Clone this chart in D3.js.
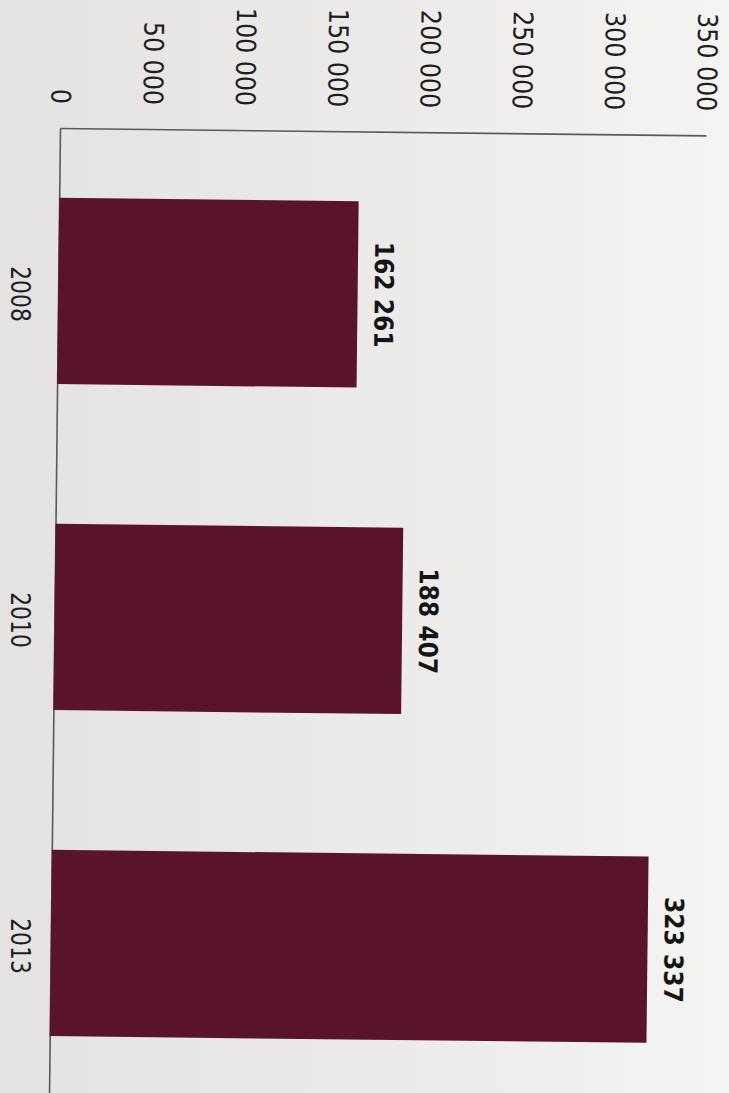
<!DOCTYPE html>
<html>
<head>
<meta charset="utf-8">
<script src="https://cdn.jsdelivr.net/npm/d3@7/dist/d3.min.js"></script>
<style>
  html, body { margin: 0; padding: 0; background: #ecebea; }
  svg { display: block; }
</style>
</head>
<body>
<svg id="chart" width="729" height="1093"></svg>
<script>
// ---- data ----
const categories = ["2008", "2010", "2013"];
const values = [162261, 188407, 323337];
const tickValues = [0, 50000, 100000, 150000, 200000, 250000, 300000, 350000];
const tickLabels = ["0", "50 000", "100 000", "150 000", "200 000", "250 000", "300 000", "350 000"];
const valueLabels = ["162 261", "188 407", "323 337"];

// ---- layout ----
const W = 729, H = 1093;
const ox = 60, oy = 128;           // corner of the two axis lines
const svg = d3.select("#chart");

// scanned-paper background
const defs = svg.append("defs");
const grad = defs.append("linearGradient").attr("id", "paper")
  .attr("x1", "0").attr("y1", "0").attr("x2", "1").attr("y2", "0");
grad.append("stop").attr("offset", "0").attr("stop-color", "#e4e2e2");
grad.append("stop").attr("offset", "0.55").attr("stop-color", "#ecebea");
grad.append("stop").attr("offset", "1").attr("stop-color", "#f4f4f2");
svg.append("rect").attr("width", W).attr("height", H).attr("fill", "url(#paper)");

// whole chart slightly skewed like the scan
const g = svg.append("g").attr("transform", `rotate(0.65, ${ox}, ${oy})`);

const x = d3.scaleLinear().domain([0, 350000]).range([ox, 706]);
const y = d3.scaleBand().domain(categories).range([oy, oy + 978])
  .paddingInner(0.4286).paddingOuter(0.2143);

// value axis (top)
const xAxis = d3.axisTop(x).tickValues(tickValues)
  .tickFormat((d, i) => tickLabels[i]).tickSize(0).tickSizeOuter(0);
const gx = g.append("g").attr("transform", `translate(0,${oy})`).call(xAxis);
gx.select(".domain").attr("stroke", "#5a5a5a").attr("stroke-width", 1.6);
gx.selectAll(".tick text")
  .attr("x", 0).attr("y", 0).attr("dy", null)
  .attr("text-anchor", "end")
  .attr("dominant-baseline", "central")
  .attr("transform", "translate(0,-24) rotate(90) scale(0.88,1)")
  .attr("font-family", "DejaVu Sans, Verdana, sans-serif")
  .attr("font-size", 27)
  .attr("fill", "#1e1e1e");

// category axis line (left, skewed with the chart)
const yAxisLine = d3.axisLeft(y).tickSize(0).tickSizeOuter(0).tickFormat("");
const gy = g.append("g").attr("transform", `translate(${ox},0)`).call(yAxisLine);
gy.select(".domain").attr("stroke", "#5a5a5a").attr("stroke-width", 1.6);

// category labels (stay in one column on the scan)
const yAxisLabels = d3.axisLeft(y).tickSize(0).tickSizeOuter(0);
const gyl = svg.append("g").attr("transform", `translate(${ox},3)`).call(yAxisLabels);
gyl.select(".domain").remove();
gyl.selectAll(".tick text")
  .attr("x", 0).attr("y", 0).attr("dy", null)
  .attr("text-anchor", "middle")
  .attr("dominant-baseline", "central")
  .attr("transform", "translate(-40,0) rotate(90) scale(0.84,1)")
  .attr("font-family", "DejaVu Sans, Verdana, sans-serif")
  .attr("font-size", 26)
  .attr("fill", "#1e1e1e");

// bars
g.append("g").selectAll("rect").data(values).join("rect")
  .attr("x", x(0))
  .attr("y", (d, i) => y(categories[i]))
  .attr("width", d => x(d) - x(0))
  .attr("height", y.bandwidth())
  .attr("fill", "#5a1429");

// value labels
g.append("g").selectAll("text").data(values).join("text")
  .attr("text-anchor", "middle")
  .attr("dominant-baseline", "central")
  .attr("transform", (d, i) =>
    `translate(${x(d) + 26},${y(categories[i]) + y.bandwidth() / 2}) rotate(90) scale(0.9,1)`)
  .attr("font-family", "DejaVu Sans, Verdana, sans-serif")
  .attr("font-weight", "bold")
  .attr("font-size", 26)
  .attr("fill", "#151515")
  .text((d, i) => valueLabels[i]);
</script>
</body>
</html>
